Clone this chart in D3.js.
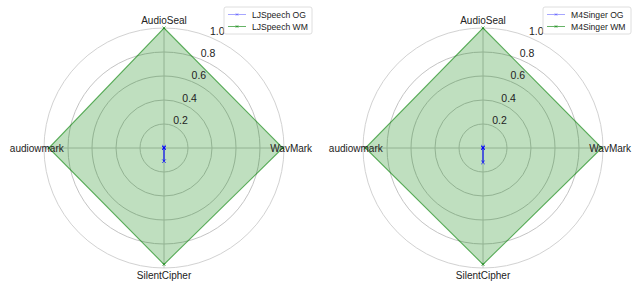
<!DOCTYPE html>
<html>
<head>
<meta charset="utf-8">
<script src="https://cdn.jsdelivr.net/npm/d3@7"></script>
<style>
  body { margin: 0; background: #fff; }
  text { font-family: "Liberation Sans", Arial, sans-serif; fill: #222; }
</style>
</head>
<body>
<div id="chart"></div>
<script>
const categories = ["AudioSeal", "WavMark", "SilentCipher", "audiowmark"];
const ticks = [0.2, 0.4, 0.6, 0.8, 1.0];

const datasets = ["LJSpeech", "M4Singer"];
const ljspeechOG = [0.01, 0.0, 0.11, 0.0];
const ljspeechWM = [1.0, 0.99, 0.97, 0.96];
const m4singerOG = [0.01, 0.0, 0.12, 0.0];
const m4singerWM = [1.0, 0.99, 0.97, 0.98];

const panels = [
  { name: datasets[0], og: ljspeechOG, wm: ljspeechWM, cx: 164 },
  { name: datasets[1], og: m4singerOG, wm: m4singerWM, cx: 483 }
];

const width = 636, height = 281, cy = 148, R = 120;

const svg = d3.select("#chart").append("svg")
  .attr("width", width)
  .attr("height", height);

const r = d3.scaleLinear().domain([0, 1]).range([0, R]);
const angle = d3.scalePoint().domain(d3.range(categories.length + 1)).range([0, 2 * Math.PI]);

const radial = d3.lineRadial()
  .angle((d, i) => angle(i))
  .radius(d => r(d))
  .curve(d3.curveLinearClosed);

const pt = (i, v) => [Math.sin(angle(i)) * r(v), -Math.cos(angle(i)) * r(v)];

const cross = (g, x, y, s, color) => {
  g.append("path")
    .attr("d", `M${x - s},${y - s}L${x + s},${y + s}M${x - s},${y + s}L${x + s},${y - s}`)
    .attr("stroke", color).attr("stroke-width", 1).attr("fill", "none");
};

panels.forEach(p => {
  const g = svg.append("g").attr("transform", `translate(${p.cx},${cy})`);

  // grid rings
  g.selectAll("circle.ring").data(ticks).enter().append("circle")
    .attr("r", d => r(d))
    .attr("fill", "none")
    .attr("stroke", d => d === 1 ? "#d2d2d2" : "#c4c4c4")
    .attr("stroke-width", 1);

  // spokes
  categories.forEach((c, i) => {
    const [x, y] = pt(i, 1);
    g.append("line").attr("x1", 0).attr("y1", 0).attr("x2", x).attr("y2", y)
      .attr("stroke", "#c4c4c4").attr("stroke-width", 1);
  });

  // WM series
  g.append("path").datum(p.wm).attr("d", radial)
    .attr("fill", "rgba(0,128,0,0.25)")
    .attr("stroke", "rgba(0,128,0,0.6)").attr("stroke-width", 1.1);
  p.wm.forEach((v, i) => { const [x, y] = pt(i, v); cross(g, x, y, 1.5, "rgba(0,128,0,0.6)"); });

  // OG series
  g.append("path").datum(p.og).attr("d", radial)
    .attr("fill", "rgba(0,0,255,0.25)")
    .attr("stroke", "rgba(0,0,255,0.75)").attr("stroke-width", 1.5);
  p.og.forEach((v, i) => { const [x, y] = pt(i, v); cross(g, x, y, 1.8, "rgba(0,0,255,0.7)"); });

  // radial tick labels
  const la = Math.PI / 8;
  g.selectAll("text.rt").data(ticks).enter().append("text")
    .attr("x", d => Math.sin(la) * r(d))
    .attr("y", d => -Math.cos(la) * r(d) - 2)
    .attr("font-size", 10.5)
    .text(d => d.toFixed(1));

  // category labels
  categories.forEach((c, i) => {
    const [x, y] = pt(i, 1.06);
    g.append("text").attr("x", x).attr("y", y)
      .attr("text-anchor", "middle")
      .attr("dominant-baseline", "central")
      .attr("font-size", 10)
      .text(c);
  });

  // legend
  const lg = g.append("g").attr("transform", `translate(60,-141)`);
  lg.append("rect").attr("width", 88).attr("height", 27).attr("rx", 2)
    .attr("fill", "rgba(255,255,255,0.8)").attr("stroke", "#d6d6d6").attr("stroke-width", 0.8);
  const items = [
    { label: `${p.name} OG`, color: "rgba(0,0,255,0.35)" },
    { label: `${p.name} WM`, color: "rgba(0,128,0,0.6)" }
  ];
  items.forEach((it, i) => {
    const y = 7.5 + i * 12;
    lg.append("line").attr("x1", 4).attr("x2", 22).attr("y1", y).attr("y2", y)
      .attr("stroke", it.color).attr("stroke-width", 1);
    cross(lg, 13, y, 1.3, it.color);
    lg.append("text").attr("x", 28).attr("y", y).attr("dominant-baseline", "central")
      .attr("font-size", 8.6).text(it.label);
  });
});
</script>
</body>
</html>
